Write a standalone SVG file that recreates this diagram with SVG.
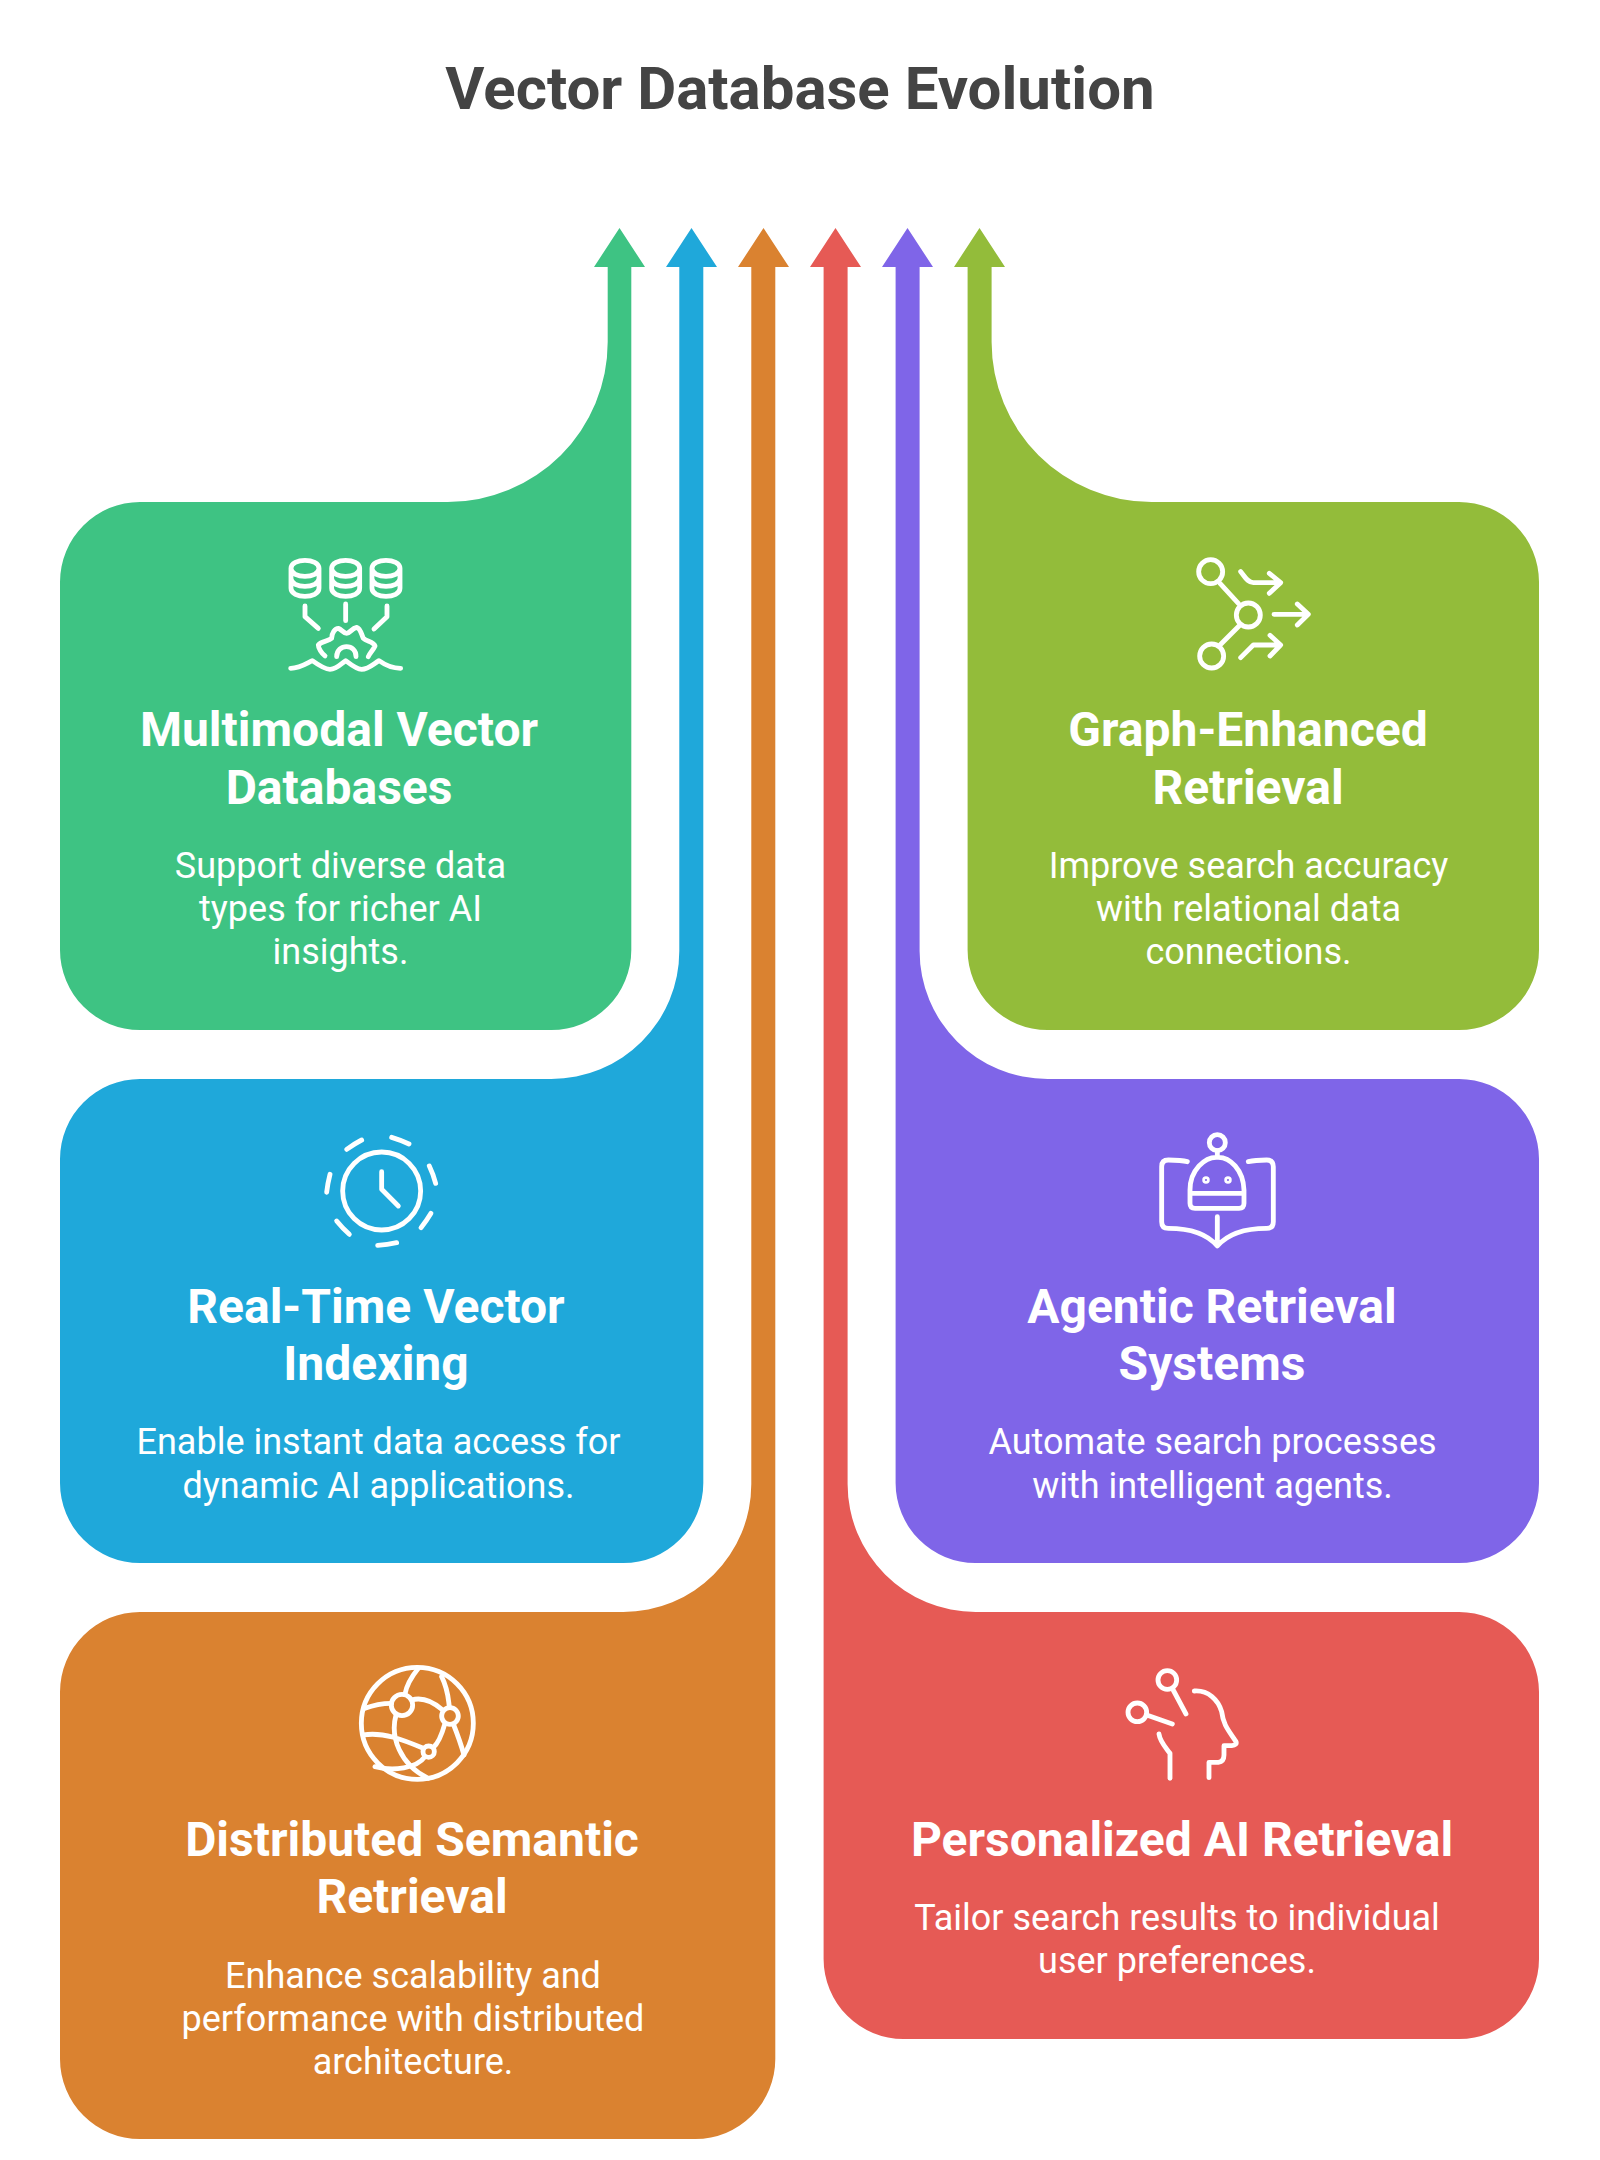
<svg xmlns="http://www.w3.org/2000/svg" width="1600" height="2160" viewBox="0 0 1600 2160">
<style>
text{font-family:Roboto,"Liberation Sans",sans-serif;text-anchor:middle}
.title{font-size:60px;font-weight:700;fill:#444444}
.h{font-size:48px;font-weight:700;fill:#fff}
.d{font-size:36px;font-weight:400;fill:#fff}
.i{fill:none;stroke:#fff;stroke-width:14.5;stroke-linecap:round;stroke-linejoin:round}
</style>
<rect width="1600" height="2160" fill="#fff"/>
<text class="title" x="800" y="109">Vector Database Evolution</text>
<g id="connectors"></g>
<g id="node-multimodal">
<path fill="#3EC383" d="M594 267H607.7V342A160 160 0 0 1 447.7 502H140A80 80 0 0 0 60 582V950A80 80 0 0 0 140 1030H551.3A80 80 0 0 0 631.3 950V267H645L619.5 228Z"/>
<g class="i" transform="translate(250 520) scale(.3333)">
<path id="cyl" d="M123 145C123 113 207 113 207 145C207 177 123 177 123 145V205C123 237 207 237 207 205V145M123 175C123 207 207 207 207 175"/>
<use href="#cyl" x="122"/><use href="#cyl" x="243"/>
<path d="M165 258V290L205 325M287 252V302M411 258V290L372 327M225 408C215 400 205 385 205 375C215 362 235 365 245 355C245 340 255 325 265 325C275 328 280 340 290 340C300 340 305 325 320 322C332 325 335 345 340 355C350 365 370 365 375 378C370 390 358 400 355 410M260 410C260 370 320 370 318 410M122 445C150 445 170 430 187 422C205 435 225 448 240 448C260 448 275 430 287 422C300 432 320 448 335 448C355 448 370 432 387 422C405 435 425 445 452 445"/>
</g>
<text class="h" x="339" y="746">Multimodal Vector</text>
<text class="h" x="339" y="804">Databases</text>
<text class="d" x="340.5" y="878">Support diverse data</text>
<text class="d" x="340.5" y="921">types for richer AI</text>
<text class="d" x="340.5" y="964">insights.</text>
</g>
<g id="node-realtime">
<path fill="#1FA8DA" d="M666 267H679.3V951A128 128 0 0 1 551.3 1079H140A80 80 0 0 0 60 1159V1483A80 80 0 0 0 140 1563H623.3A80 80 0 0 0 703.3 1483V267H717L691.5 228Z"/>
<g class="i" transform="translate(300 1110) scale(.3333)">
<circle cx="245" cy="243" r="117"/>
<path d="M245 185V238L295 288M140 118Q162 102 185 90M275 82Q302 90 327 102M388 168Q400 193 407 220M393 310Q380 332 363 353M290 398Q262 404 233 406M148 373Q128 355 110 333M80 247Q83 220 90 193"/>
</g>
<text class="h" x="376" y="1322.5">Real-Time Vector</text>
<text class="h" x="376" y="1380">Indexing</text>
<text class="d" x="378.5" y="1454">Enable instant data access for</text>
<text class="d" x="378.5" y="1497.5">dynamic AI applications.</text>
</g>
<g id="node-distributed">
<path fill="#DA8230" d="M738 267H751.3V1484A128 128 0 0 1 623.3 1612H140A80 80 0 0 0 60 1692V2059A80 80 0 0 0 140 2139H695.3A80 80 0 0 0 775.3 2059V267H789L763.5 228Z"/>
<g class="i" transform="translate(340 1640) scale(.3333)">
<circle cx="232" cy="250" r="168"/><circle cx="186" cy="195" r="32"/><circle cx="330" cy="228" r="25"/><circle cx="266" cy="335" r="17"/>
<path d="M235 85C215 110 200 135 195 162M75 205C100 195 130 190 155 190M215 180C250 170 285 190 308 210M315 250C305 285 295 310 280 322M168 225C150 290 180 375 265 415M70 285C130 275 190 300 250 325M255 350C230 385 160 395 105 380M305 110C325 150 325 180 328 200M340 252C355 290 365 320 372 345"/>
</g>
<text class="h" x="412" y="1855.5">Distributed Semantic</text>
<text class="h" x="412" y="1913">Retrieval</text>
<text class="d" x="413" y="1987.5">Enhance scalability and</text>
<text class="d" x="413" y="2030.5">performance with distributed</text>
<text class="d" x="413" y="2074">architecture.</text>
</g>
<g id="node-personalized">
<path fill="#E65A55" d="M810 267H823.6V1959A80 80 0 0 0 903.6 2039H1459A80 80 0 0 0 1539 1959V1692A80 80 0 0 0 1459 1612H975.6A128 128 0 0 1 847.6 1484V267H861L835.5 228Z"/>
<g class="i" transform="translate(1100 1640) scale(.3333)">
<circle cx="202" cy="120" r="28"/><circle cx="112" cy="217" r="28"/>
<path d="M218 147L258 222M140 225L217 252M283 153C325 150 355 180 365 215C370 255 385 270 408 305Q412 315 395 317H372V345Q372 365 355 367H327V413M177 282C180 305 195 320 210 340V415"/>
</g>
<text class="h" x="1182" y="1855.5">Personalized AI Retrieval</text>
<text class="d" x="1177" y="1930">Tailor search results to individual</text>
<text class="d" x="1177" y="1973">user preferences.</text>
</g>
<g id="node-agentic">
<path fill="#7F65E8" d="M882 267H895.6V1483A80 80 0 0 0 975.6 1563H1459A80 80 0 0 0 1539 1483V1159A80 80 0 0 0 1459 1079H1047.6A128 128 0 0 1 919.6 951V267H933L907.5 228Z"/>
<g class="i" transform="translate(1140 1110) scale(.3333)">
<circle cx="232" cy="98" r="24"/>
<path d="M232 122V142M150 240C150 180 195 140 232 142C270 140 310 180 312 240V280Q312 295 297 295H165Q150 295 150 280ZM150 250H312M142 155C125 150 105 150 85 150Q65 150 65 170V335Q65 355 85 355C150 355 200 370 232 408C265 370 320 355 380 355Q400 355 400 335V170Q400 150 380 150C360 150 345 150 325 155M232 320V405"/>
<circle cx="198" cy="210" r="4"/><circle cx="264" cy="210" r="4"/>
</g>
<text class="h" x="1212" y="1322.5">Agentic Retrieval</text>
<text class="h" x="1212" y="1380">Systems</text>
<text class="d" x="1212.5" y="1454">Automate search processes</text>
<text class="d" x="1212.5" y="1497.5">with intelligent agents.</text>
</g>
<g id="node-graph">
<path fill="#93BC3A" d="M954 267H967.6V950A80 80 0 0 0 1047.6 1030H1459A80 80 0 0 0 1539 950V582A80 80 0 0 0 1459 502H1151.6A160 160 0 0 1 991.6 342V267H1005L979.5 228Z"/>
<g class="i" transform="translate(1160 530) scale(.3333)">
<circle cx="152" cy="125" r="36"/><circle cx="265" cy="255" r="36"/><circle cx="155" cy="378" r="36"/>
<path d="M180 160L235 220M240 285L180 345M242 125C255 140 262 158 280 158H360M328 130L362 158L328 190M342 253H445M412 222L445 253L412 285M242 383L280 345H360M330 316L362 345L330 378"/>
</g>
<text class="h" x="1248" y="746">Graph-Enhanced</text>
<text class="h" x="1248" y="804">Retrieval</text>
<text class="d" x="1248.5" y="878">Improve search accuracy</text>
<text class="d" x="1248.5" y="921">with relational data</text>
<text class="d" x="1248.5" y="964">connections.</text>
</g>
</svg>
